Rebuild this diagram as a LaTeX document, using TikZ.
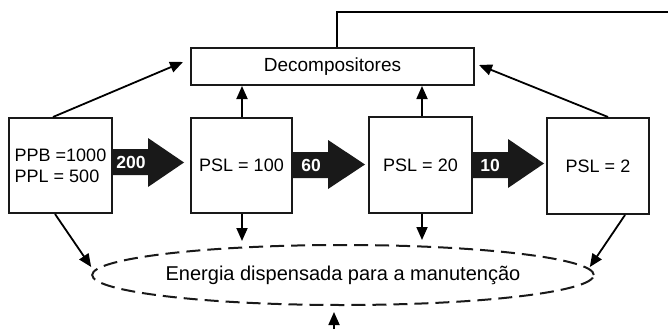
\documentclass[tikz,border=0pt]{standalone}
\usepackage{fontspec}
\setmainfont{Liberation Sans}
\usetikzlibrary{arrows.meta,shapes.geometric,calc}
\tikzset{
  boxnode/.style={draw=black!90, line width=2pt, fill=white, inner sep=0pt, font=\fontsize{18}{21}\selectfont, align=left},
  conn/.style={line width=1.8pt, -{Triangle[length=13pt,width=11pt]}},
  fatarrow/.style={fill=black!90},
  fatlabel/.style={text=white, font=\fontsize{17.5}{20}\selectfont\bfseries, inner sep=0pt}
}
\begin{document}
\begin{tikzpicture}[x=1pt,y=-1pt]
\useasboundingbox (0,0) rectangle (668,329);
% boxes
\node[boxnode, minimum width=283pt, minimum height=37pt, font=\fontsize{19}{22}\selectfont] (dec) at (332.5,66.5) {Decompositores};
\node[boxnode, minimum width=103pt, minimum height=95pt] (b1) at (60.5,165.5) {PPB =1000\\PPL = 500};
\node[boxnode, minimum width=101pt, minimum height=95pt] (b2) at (241.5,165.5) {PSL = 100};
\node[boxnode, minimum width=103pt, minimum height=96pt] (b3) at (420.5,165) {PSL = 20};
\node[boxnode, minimum width=102pt, minimum height=96pt] (b4) at (598,166) {PSL = 2};
% ellipse
\node[ellipse, draw=black!90, line width=2pt, dash pattern=on 14pt off 7pt, minimum width=500pt, minimum height=60pt, inner sep=0pt, font=\fontsize{20}{23}\selectfont] (ell) at (343,275) {Energia dispensada para a manutenção};
% fat arrows
\fill[fatarrow] (b1.east |- 0,149) -- (148,149) -- (148,138) -- (184,162.5) -- (148,187) -- (148,175) -- (b1.east |- 0,175) -- cycle;
\node[fatlabel] (l1) at (131,162.5) {200};
\fill[fatarrow] (b2.east |- 0,152) -- (328,152) -- (328,140) -- (365,164.5) -- (328,189) -- (328,178) -- (b2.east |- 0,178) -- cycle;
\node[fatlabel] (l2) at (311,165) {60};
\fill[fatarrow] (b3.east |- 0,152) -- (508,152) -- (508,139) -- (544,163.5) -- (508,188) -- (508,178) -- (b3.east |- 0,178) -- cycle;
\node[fatlabel] (l3) at (490,165) {10};
% feedback line
\coordinate (fbend) at (668,12);
\draw[line width=1.8pt] ([xshift=4.5pt]dec.north) |- (fbend);
% connectors to decompositores
\draw[conn] ([xshift=-7.5pt]b1.north) -- ([xshift=-7pt,yshift=4.5pt]dec.west);
\draw[conn] ([xshift=0.5pt]b2.north) -- ([xshift=0.5pt]b2.north |- dec.south);
\draw[conn] ([xshift=1.5pt]b3.north) -- ([xshift=1.5pt]b3.north |- dec.south);
\draw[conn] ([xshift=10pt]b4.north) -- ([xshift=4pt,yshift=1.5pt]dec.east);
% connectors to ellipse
\draw[conn] ([xshift=-5.5pt]b1.south) -- ([yshift=8pt]ell.west);
\draw[conn] ([xshift=0.5pt]b2.south) -- ([xshift=0.5pt,yshift=3pt]b2.south |- ell.north);
\draw[conn] ([xshift=1.5pt]b3.south) -- ([xshift=1.5pt,yshift=4pt]b3.south |- ell.north);
\draw[conn] ([xshift=27pt]b4.south) -- ([xshift=-5pt,yshift=8pt]ell.east);
\coordinate (bot) at (334,329);
\draw[conn] (bot) -- ([yshift=-6pt]bot |- ell.south);
\end{tikzpicture}
\end{document}
